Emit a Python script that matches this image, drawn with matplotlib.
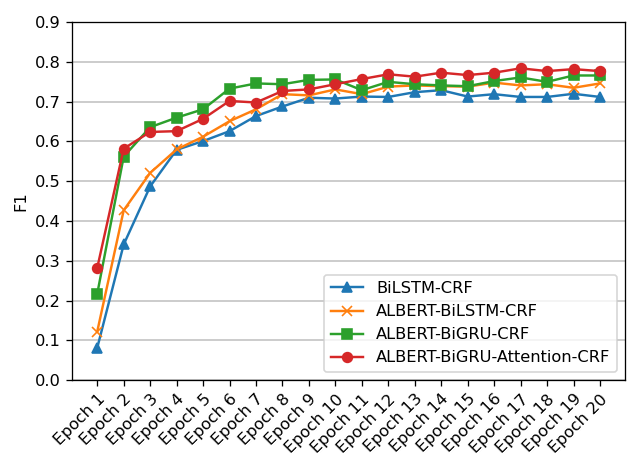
import matplotlib
matplotlib.use("Agg")
import matplotlib.pyplot as plt

epochs = [f"Epoch {i}" for i in range(1, 21)]
bilstm = [0.081, 0.341, 0.487, 0.579, 0.601, 0.626, 0.664, 0.688, 0.710, 0.708,
          0.713, 0.712, 0.724, 0.729, 0.713, 0.719, 0.712, 0.712, 0.720, 0.712]
albert_bilstm = [0.122, 0.427, 0.521, 0.580, 0.612, 0.651, 0.681, 0.719, 0.716, 0.731,
                 0.719, 0.738, 0.741, 0.739, 0.738, 0.748, 0.741, 0.744, 0.735, 0.746]
albert_bigru = [0.217, 0.562, 0.636, 0.660, 0.681, 0.733, 0.746, 0.744, 0.755, 0.756,
                0.729, 0.750, 0.744, 0.741, 0.739, 0.752, 0.761, 0.750, 0.766, 0.766]
albert_bigru_att = [0.282, 0.582, 0.624, 0.626, 0.657, 0.702, 0.698, 0.727, 0.731, 0.744,
                    0.757, 0.769, 0.763, 0.773, 0.767, 0.773, 0.784, 0.777, 0.782, 0.777]
labels = ["BiLSTM-CRF", "ALBERT-BiLSTM-CRF", "ALBERT-BiGRU-CRF", "ALBERT-BiGRU-Attention-CRF"]
yticks = [0.0, 0.1, 0.2, 0.3, 0.4, 0.5, 0.6, 0.7, 0.8, 0.9]

DPI = 117
fig = plt.figure(figsize=(627 / DPI, 453 / DPI), dpi=DPI)
ax = fig.add_axes([0.115, 0.161, 0.882, 0.790])

x = list(range(len(epochs)))
ax.plot(x, bilstm, marker="^", color="#1f77b4", label=labels[0])
ax.plot(x, albert_bilstm, marker="x", color="#ff7f0e", label=labels[1])
ax.plot(x, albert_bigru, marker="s", color="#2ca02c", label=labels[2])
ax.plot(x, albert_bigru_att, marker="o", color="#d62728", label=labels[3])

ax.set_ylim(0, 0.9)
ax.set_yticks(yticks)
ax.set_xticks(x)
ax.set_xticklabels(epochs, rotation=45, ha="right", rotation_mode="anchor")
ax.yaxis.grid(True, color="#cccccc", linewidth=1.2)
ax.set_axisbelow(True)
ax.set_ylabel("F1")
ax.legend(loc="lower right")

fig.savefig("out.png", dpi=DPI)
